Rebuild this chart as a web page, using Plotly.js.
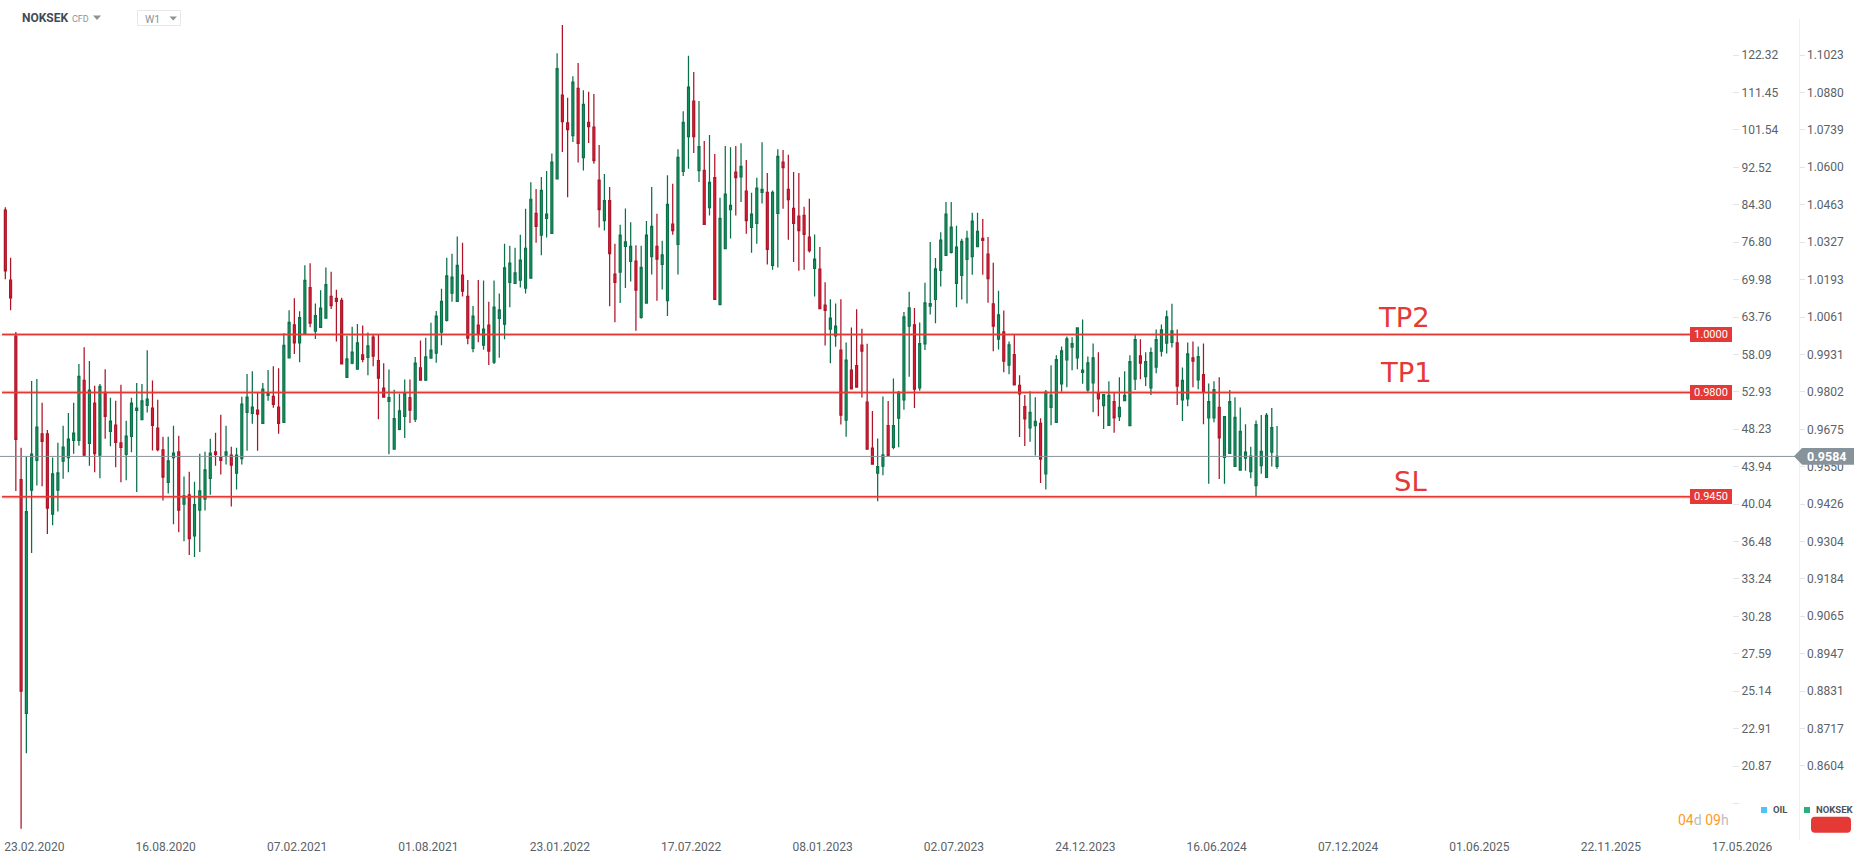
<!DOCTYPE html>
<html>
<head>
<meta charset="utf-8">
<script src="https://cdn.plot.ly/plotly-3.0.1.min.js"></script>
<style>html,body{margin:0;padding:0;background:#fff}#c{width:1866px;height:865px}</style>
</head>
<body>
<div id="c"></div>
<script>
const opens = [
1.0443,1.0191,.9994,.9507,.8763,.9472,.9571,.9660,.9660,.9393,
.9472,.9568,.9580,.9638,.9638,.9841,.9628,.9764,.9588,.9800,
.9668,.9689,.9629,.9591,.9651,.9739,.9708,.9756,.9747,.9679,
.9606,.9498,.9580,.9599,.9426,.9456,.9322,.9406,.9442,.9511,
.9599,.9582,.9588,.9588,.9528,.9577,.9732,.9729,.9740,.9695,
.9790,.9787,.9750,.9698,.9919,1.0034,.9971,1.0000,1.0165,1.0012,
1.0025,1.0057,1.0134,1.0127,1.0120,.9852,.9901,.9880,.9929,.9921,
.9991,.9909,.9815,.9770,.9608,.9675,.9719,.9782,.9709,.9884,
.9842,.9918,.9935,1.0008,1.0049,1.0145,1.0116,1.0209,1.0134,.9952,
1.0033,.9963,1.0033,.9904,1.0056,1.0036,1.0183,1.0180,1.0191,1.0163,
1.0198,1.0431,1.0352,1.0413,1.0359,1.0557,1.0870,1.0765,1.0718,1.0896,
1.0636,1.0767,1.0749,1.0553,1.0405,1.0478,1.0213,1.0220,1.0312,1.0258,
1.0259,1.0060,1.0110,1.0275,1.0312,1.0247,1.0119,1.0392,1.0319,1.0585,
1.0714,1.0847,1.0588,1.0589,1.0452,1.0562,1.0105,1.0304,1.0445,1.0582,
1.0565,1.0512,1.0380,1.0395,1.0508,1.0508,1.0244,1.0431,1.0619,1.0519,
1.0449,1.0421,1.0424,1.0345,1.0233,1.0230,1.0103,1.0019,.9995,.9946,
.9706,.9877,.9892,.9963,.9767,.9612,.9528,.9552,.9687,.9614,
.9713,.9775,1.0029,1.0034,.9816,.9967,1.0099,1.0123,1.0226,1.0280,
1.0290,1.0180,1.0208,1.0265,1.0275,1.0311,1.0341,1.0284,1.0107,.9984,
1.0009,.9894,.9930,.9824,.9752,.9680,.9687,.9695,.9526,.9749,
.9698,.9829,.9912,.9956,.9919,.9869,.9809,.9833,.9797,.9755,
.9688,.9769,.9718,.9772,.9687,.9846,.9926,.9854,.9816,.9887,
.9942,.9970,.9973,.9971,.9775,.9778,.9919,.9843,.9861,.9714,
.9714,.9749,.9581,.9594,.9551,.9538,.9578,.9533,.9487,.9553,
.9514,.9598,.9551];
const closes = [
1.0224,1.0128,.9641,.8831,.9401,.9592,.9682,.9634,.9413,.9526,
.9529,.9615,.9642,.9662,.9855,.9588,.9808,.9593,.9821,.9719,
.9703,.9631,.9614,.9652,.9764,.9747,.9771,.9777,.9688,.9607,
.9515,.9569,.9595,.9406,.9453,.9313,.9424,.9470,.9539,.9595,
.9591,.9571,.9599,.9555,.9588,.9760,.9784,.9750,.9726,.9811,
.9798,.9759,.9695,.9962,1.0042,.9971,1.0059,1.0190,1.0040,1.0066,
1.0092,1.0175,1.0101,1.0116,.9898,.9915,.9939,.9971,.9914,.9960,
.9925,.9849,.9784,.9782,.9711,.9737,.9796,.9740,.9901,.9842,
.9922,.9946,1.0064,1.0116,1.0206,1.0202,1.0244,1.0152,.9987,1.0064,
1.0001,1.0019,.9942,1.0096,1.0086,1.0235,1.0252,1.0217,1.0263,1.0305,
1.0482,1.0384,1.0515,1.0428,1.0619,1.0971,1.0770,1.0740,1.0919,1.0689,
1.0835,1.0751,1.0625,1.0445,1.0478,1.0286,1.0183,1.0352,1.0328,1.0312,
1.0156,1.0237,1.0352,1.0384,1.0266,1.0281,1.0464,1.0369,1.0637,1.0767,
1.0900,1.0714,1.0677,1.0391,1.0544,1.0123,1.0413,1.0501,1.0460,1.0562,
1.0603,1.0405,1.0428,1.0523,1.0519,1.0301,1.0508,1.0640,1.0599,1.0481,
1.0395,1.0369,1.0355,1.0297,1.0266,1.0091,1.0084,1.0057,1.0029,.9723,
.9911,.9812,.9818,.9942,.9608,.9558,.9550,.9589,.9587,.9687,
.9800,1.0062,1.0093,.9811,.9968,1.0111,1.0108,1.0231,1.0334,1.0428,
1.0381,1.0309,1.0330,1.0341,1.0403,1.0366,1.0333,1.0197,1.0029,1.0069,
.9908,.9964,.9826,.9795,.9710,.9732,.9702,.9575,.9801,.9791,
.9913,.9943,.9985,.9968,1.0023,.9877,.9902,.9919,.9778,.9793,
.9790,.9714,.9749,.9790,.9906,.9982,.9901,.9906,.9937,.9982,
1.0016,1.0062,1.0013,.9822,.9841,.9933,.9908,.9923,.9800,.9769,
.9810,.9646,.9718,.9769,.9715,.9668,.9598,.9585,.9691,.9601,
.9722,.9681,.9584];
const highs = [
1.0453,1.0271,1.0009,.9613,.9584,.9839,.9846,.9765,.9673,.9580,
.9630,.9687,.9730,.9765,.9898,.9956,.9908,.9823,.9829,.9880,
.9782,.9772,.9826,.9704,.9782,.9832,.9829,.9945,.9841,.9775,
.9650,.9650,.9687,.9653,.9517,.9533,.9500,.9593,.9600,.9643,
.9663,.9724,.9687,.9616,.9613,.9785,.9863,.9873,.9801,.9832,
.9877,.9890,.9883,1.0004,1.0085,1.0127,1.0081,1.0244,1.0251,1.0109,
1.0155,1.0236,1.0221,1.0157,1.0129,.9996,1.0027,1.0037,1.0031,1.0007,
.9999,1.0000,.9900,.9879,.9809,.9796,.9844,.9844,.9922,.9979,
.9989,1.0041,1.0082,1.0161,1.0271,1.0285,1.0347,1.0325,1.0192,1.0100,
1.0192,1.0190,1.0115,1.0190,1.0144,1.0321,1.0314,1.0307,1.0354,1.0448,
1.0545,1.0520,1.0564,1.0586,1.0651,1.1030,1.1139,1.0860,1.0942,1.0992,
1.0888,1.0883,1.0874,1.0683,1.0575,1.0527,1.0321,1.0390,1.0449,1.0399,
1.0316,1.0314,1.0403,1.0527,1.0430,1.0332,1.0571,1.0539,1.0667,1.0809,
1.1020,1.0958,1.0848,1.0698,1.0720,1.0649,1.0488,1.0679,1.0674,1.0679,
1.0689,1.0627,1.0506,1.0561,1.0693,1.0579,1.0515,1.0667,1.0664,1.0646,
1.0583,1.0579,1.0455,1.0484,1.0355,1.0310,1.0184,1.0124,1.0109,1.0124,
.9972,1.0024,1.0088,1.0020,.9968,.9737,.9644,.9786,.9771,.9848,
.9805,1.0079,1.0150,1.0093,1.0042,1.0182,1.0328,1.0270,1.0363,1.0473,
1.0473,1.0386,1.0339,1.0368,1.0433,1.0433,1.0411,1.0346,1.0253,1.0154,
1.0084,.9976,1.0000,.9859,.9791,.9804,.9784,.9712,.9808,.9893,
.9928,.9958,.9993,.9990,1.0023,1.0052,.9924,.9969,.9938,.9794,
.9838,.9800,.9852,.9873,.9928,1.0000,.9983,.9938,.9955,1.0017,
1.0035,1.0084,1.0108,1.0017,.9886,.9972,.9976,.9958,.9969,.9831,
.9838,.9852,.9719,.9808,.9784,.9749,.9692,.9616,.9705,.9723,
.9730,.9747,.9686];
const lows = [
1.0194,1.0085,.9469,.8418,.8642,.9267,.9487,.9485,.9328,.9357,
.9402,.9510,.9531,.9593,.9620,.9585,.9553,.9531,.9511,.9643,
.9618,.9548,.9498,.9505,.9598,.9466,.9707,.9732,.9604,.9601,
.9438,.9461,.9360,.9334,.9305,.9260,.9254,.9270,.9405,.9457,
.9553,.9524,.9557,.9418,.9474,.9557,.9603,.9694,.9603,.9695,
.9772,.9748,.9660,.9698,.9919,.9932,.9904,1.0000,1.0025,.9984,
1.0025,1.0057,1.0089,.9976,.9898,.9852,.9897,.9880,.9904,.9859,
.9890,.9709,.9784,.9591,.9608,.9672,.9646,.9696,.9700,.9842,
.9839,.9918,.9902,.9963,1.0045,1.0115,1.0116,1.0133,.9966,.9938,
.9973,.9947,.9894,.9898,.9919,.9983,1.0095,1.0180,1.0165,1.0144,
1.0198,1.0325,1.0280,1.0344,1.0359,1.0557,1.0657,1.0490,1.0694,1.0618,
1.0588,1.0690,1.0613,1.0380,1.0369,1.0099,1.0043,1.0110,1.0163,1.0186,
1.0013,1.0055,1.0110,1.0211,1.0118,1.0158,1.0065,1.0354,1.0211,1.0568,
1.0595,1.0653,1.0546,1.0391,1.0423,1.0123,1.0105,1.0304,1.0340,1.0423,
1.0473,1.0357,1.0289,1.0321,1.0467,1.0247,1.0228,1.0236,1.0448,1.0336,
1.0256,1.0225,1.0228,1.0290,1.0133,1.0091,.9962,.9900,.9957,.9691,
.9650,.9812,.9818,.9783,.9608,.9558,.9435,.9521,.9587,.9608,
.9615,.9741,.9854,.9747,.9806,.9946,1.0070,1.0039,1.0169,1.0280,
1.0286,1.0095,1.0123,1.0109,1.0210,1.0311,1.0210,1.0111,.9942,.9948,
.9869,.9862,.9826,.9649,.9619,.9633,.9587,.9496,.9474,.9689,
.9698,.9802,.9818,.9876,.9880,.9830,.9802,.9733,.9719,.9676,
.9688,.9663,.9703,.9772,.9687,.9808,.9845,.9822,.9791,.9866,
.9924,.9934,.9955,.9757,.9703,.9753,.9818,.9811,.9692,.9493,
.9699,.9509,.9493,.9594,.9551,.9538,.9536,.9511,.9450,.9526,
.9514,.9550,.9543];

const weeks = opens.map((_, i) => i);
const tickWeeks = [0,25,50,75,100,125,150,175,200,225,250,275,300,325];
const tickDates = ["23.02.2020","16.08.2020","07.02.2021","01.08.2021","23.01.2022","17.07.2022","08.01.2023","02.07.2023","24.12.2023","16.06.2024","07.12.2024","01.06.2025","22.11.2025","17.05.2026"];
const nokTicks = [1.1023,1.0880,1.0739,1.0600,1.0463,1.0327,1.0193,1.0061,0.9931,0.9802,0.9675,0.9550,0.9426,0.9304,0.9184,0.9065,0.8947,0.8831,0.8717,0.8604];
const nokLabels = ["1.1023","1.0880","1.0739","1.0600","1.0463","1.0327","1.0193","1.0061","0.9931","0.9802","0.9675","0.9550","0.9426","0.9304","0.9184","0.9065","0.8947","0.8831","0.8717","0.8604"];
const oilTicks = [122.32,111.45,101.54,92.52,84.30,76.80,69.98,63.76,58.09,52.93,48.23,43.94,40.04,36.48,33.24,30.28,27.59,25.14,22.91,20.87,19.02];
const oilLabels = ["122.32","111.45","101.54","92.52","84.30","76.80","69.98","63.76","58.09","52.93","48.23","43.94","40.04","36.48","33.24","30.28","27.59","25.14","22.91","20.87",""];
const levels = [1.0000,0.9800,0.9450];
const levelLabels = ["1.0000","0.9800","0.9450"];
const levelNames = ["TP2","TP1","SL"];
const lastPrice = 0.9584;

const W = 1866, H = 865;
const RED = "#e53935", GREY = "#87939a", TXT = "#5a6268", FONT = "Roboto, sans-serif";
const px = v => v / W, py = v => 1 - v / H;
const PAD = 5.33, STEP = 5.255, AXIS_X = 1798.5;
const wk = v => (v - PAD) / STEP;

const traces = [{
  type: "candlestick", x: weeks, open: opens, high: highs, low: lows, close: closes,
  whiskerwidth: 0, hoverinfo: "skip", showlegend: false,
  increasing: {line: {color: "#0a7048", width: 1.25}, fillcolor: "#1a9e68"},
  decreasing: {line: {color: "#ad1427", width: 1.25}, fillcolor: "#e8203a"}
},{
  type: "scatter", mode: "lines", x: [wk(0), wk(1795)], y: [lastPrice, lastPrice],
  line: {color: "#8a9599", width: 1}, hoverinfo: "skip", showlegend: false
},{
  type: "scatter", mode: "markers", x: [0], y: [oilTicks[10]], yaxis: "y2",
  marker: {opacity: 0}, hoverinfo: "skip", showlegend: false
}];
levels.forEach(v => {
  traces.push({type: "scatter", mode: "lines", x: [wk(2), wk(1690)], y: [v, v], line: {color: "rgba(229,57,53,0.28)", width: 3.2}, hoverinfo: "skip", showlegend: false});
  traces.push({type: "scatter", mode: "lines", x: [wk(2), wk(1690)], y: [v, v], line: {color: RED, width: 1.5}, hoverinfo: "skip", showlegend: false});
});

const note = (x, y, text, size, color, extra) => Object.assign({
  xref: "paper", yref: "paper", x: px(x), y: py(y), text, showarrow: false,
  xanchor: "left", yanchor: "middle", font: {family: FONT, size, color}
}, extra || {});

const annotations = [
  note(19.5, 18, "<b>NOKSEK</b>", 12, "#3f4b55"),
  note(69.5, 19, "CFD", 9, "#8a9399"),
  note(143, 19, "W1", 10.5, "#8a9399"),
  note(1676, 820, '<span style="color:#ff9a1f">04</span><span style="color:#b9bec2">d</span> <span style="color:#ff9a1f">09</span><span style="color:#b9bec2">h</span>', 14, "#ff9a1f"),
  note(1771, 809.5, "<b>OIL</b>", 9.5, "#4a545c"),
  note(1814, 809.5, "<b>NOKSEK</b>", 9.5, "#4a545c"),
  note(1805, 456.3, "<b>" + lastPrice.toFixed(4) + "</b>", 12.5, "#ffffff"),
  note(1376, 317, levelNames[0], 27.4, RED, {font: {family: "DejaVu Sans", size: 27.4, color: RED}}),
  note(1378, 372, levelNames[1], 27.4, RED, {font: {family: "DejaVu Sans", size: 27.4, color: RED}}),
  note(1392, 481, levelNames[2], 27.4, RED, {font: {family: "DejaVu Sans", size: 27.4, color: RED}})
];
levels.forEach((v, i) => annotations.push({
  xref: "paper", yref: "y", x: px(1690), y: Math.log10(v), text: levelLabels[i], showarrow: false,
  xanchor: "left", yanchor: "middle", width: 42, height: 14.5, align: "center", bgcolor: RED,
  borderpad: 0, borderwidth: 0, font: {family: FONT, size: 11, color: "#fff"}
}));

const pathP = pts => "M" + pts.map(p => px(p[0]) + "," + py(p[1])).join("L") + "Z";
const round = (x0, y0, x1, y1, r) => {
  const X = px, Y = py;
  return `M${X(x0+r)},${Y(y0)}L${X(x1-r)},${Y(y0)}Q${X(x1)},${Y(y0)} ${X(x1)},${Y(y0+r)}L${X(x1)},${Y(y1-r)}Q${X(x1)},${Y(y1)} ${X(x1-r)},${Y(y1)}L${X(x0+r)},${Y(y1)}Q${X(x0)},${Y(y1)} ${X(x0)},${Y(y1-r)}L${X(x0)},${Y(y0+r)}Q${X(x0)},${Y(y0)} ${X(x0+r)},${Y(y0)}Z`;
};
const pShape = (path, fill) => ({type: "path", xref: "paper", yref: "paper", path, fillcolor: fill, line: {width: 0}});
const shapes = [
  pShape(pathP([[93,15.5],[101,15.5],[97,20]]), "#8a9399"),
  pShape(pathP([[169.5,16.5],[177,16.5],[173.2,20.5]]), "#8a9399"),
  {type: "rect", xref: "paper", yref: "paper", x0: px(137.5), x1: px(180.5), y0: py(10.5), y1: py(25.5), line: {color: "#e6e8ea", width: 1}, fillcolor: "rgba(0,0,0,0)"},
  pShape(pathP([[1794,456.3],[1802,448],[1854,448],[1854,464.7],[1802,464.7]]), GREY),
  pShape(pathP([[1761,807],[1767,807],[1767,813],[1761,813]]), "#4fc3f7"),
  pShape(pathP([[1804,807],[1810,807],[1810,813],[1804,813]]), "#26b27a"),
  pShape(round(1811, 816.7, 1851, 832.7, 4), RED)
];

const layout = {
  width: W, height: H, margin: {l: 0, r: 0, t: 0, b: 0, pad: 0},
  paper_bgcolor: "#fff", plot_bgcolor: "#fff", showlegend: false, boxgap: 0.48,
  font: {family: FONT, size: 12, color: TXT}, annotations, shapes, hovermode: false,
  xaxis: {
    domain: [0, AXIS_X / W], type: "linear", range: [wk(0), wk(AXIS_X)], rangeslider: {visible: false},
    tickmode: "array", tickvals: tickWeeks, ticktext: tickDates, tickangle: 0, ticklabelshift: 29, ticklabelstandoff: -2,
    showgrid: false, zeroline: false, showline: false, ticks: "", tickfont: {family: FONT, size: 12, color: TXT}
  },
  yaxis: {
    domain: [1 - 840 / H, 1 - 19 / H], type: "log", range: [-0.07651, 0.04775], side: "right",
    anchor: "free", position: AXIS_X / W, tickmode: "array", tickvals: nokTicks, ticktext: nokLabels,
    showgrid: false, zeroline: false, showline: true, linecolor: "#eef0f2", linewidth: 1,
    ticks: "outside", ticklen: 5, tickcolor: "#e3e5e7", tickwidth: 1, tickfont: {family: FONT, size: 12, color: TXT}
  },
  yaxis2: {
    domain: [1 - 840 / H, 1 - 19 / H], type: "log", range: [1.2396, 2.1265], side: "right", overlaying: "y",
    anchor: "free", position: 1732 / W, tickmode: "array", tickvals: oilTicks, ticktext: oilLabels,
    showgrid: false, zeroline: false, showline: false,
    ticks: "outside", ticklen: 6, tickcolor: "#e3e5e7", tickwidth: 1, tickfont: {family: FONT, size: 12, color: TXT}
  }
};
Plotly.newPlot("c", traces, layout, {displayModeBar: false, staticPlot: true});
</script>
</body>
</html>
